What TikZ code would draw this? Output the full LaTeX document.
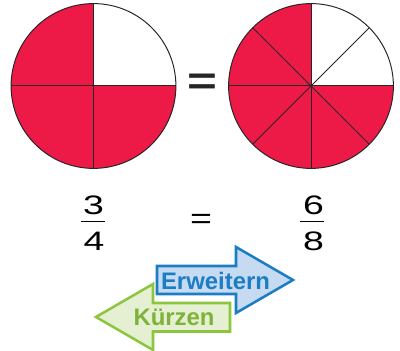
\documentclass[tikz,border=0pt]{standalone}
\usepackage{fontspec}
\setmainfont{Liberation Sans}
\usepackage{xcolor}
\usepackage{tikz}
\definecolor{fracred}{HTML}{ED1A47}
\definecolor{erwblue}{HTML}{1B7DC4}
\definecolor{erwfill}{HTML}{C6DBF1}
\definecolor{kuegreen}{HTML}{8CC63F}
\definecolor{kuefill}{HTML}{E5F0D3}
\newcommand{\stretchx}[2][1.4]{\scalebox{#1}[1]{#2}}

\begin{document}
\begin{tikzpicture}[x=0.25mm, y=0.25mm,
  rim/.style={draw=black!85, line width=0.7pt},
  digit/.style={inner sep=0pt, font=\fontsize{19}{21}\selectfont},
  arrowtext/.style={inner sep=0pt, font=\fontsize{17}{19}\selectfont\bfseries}]
  \useasboundingbox (0,0) rectangle (400,351);
  \def\rad{20.6mm}
  \coordinate (L) at (93.5,265);
  \coordinate (R) at (311,265);
  \fill[fracred] (L) -- +(90:\rad) arc[start angle=90, end angle=360, radius=\rad] -- cycle;
  \fill[fracred] (R) -- +(90:\rad) arc[start angle=90, end angle=360, radius=\rad] -- cycle;
  \draw[rim] (L) circle[radius=\rad];
  \foreach \a in {0,90,180,270} \draw[rim] (L) -- +(\a:\rad);
  \draw[rim] (R) circle[radius=\rad];
  \foreach \a in {0,45,...,315} \draw[rim] (R) -- +(\a:\rad);
  \node[inner sep=0pt, text=black!85, font=\fontsize{28}{30}\selectfont\bfseries] (eqbig) at (202.5,267) {\stretchx[1.3]{=}};

  \node[digit] (num3) at (93.5,146) {\stretchx{3}};
  \node[digit] (den4) at (94,109.5) {\stretchx{4}};
  \draw[line width=1.1pt] (81,129.3) -- (105,129.3);
  \node[digit, font=\fontsize{20.5}{22}\selectfont] (eqsmall) at (201,130) {\stretchx[1.3]{=}};
  \node[digit] (num6) at (313.5,146) {\stretchx{6}};
  \node[digit] (den8) at (313.5,109.5) {\stretchx{8}};
  \draw[line width=1.1pt] (300,129.3) -- (324,129.3);

  \filldraw[draw=kuegreen, fill=kuefill, line width=1.8pt] (96,34) -- (153,67) -- (153,48) -- (230,48)
    -- (230,19.5) -- (153,19.5) -- (153,1) -- cycle;
  \filldraw[draw=erwblue, fill=erwfill, line width=1.8pt] (157,85) -- (236,85) -- (236,104) -- (293,71)
    -- (236,38) -- (236,57) -- (157,57) -- cycle;
  \node[arrowtext, text=erwblue] (erw) at (215.5,69.6) {Erweitern};
  \node[arrowtext, text=kuegreen!90!black] (kue) at (174,34) {Kürzen};
\end{tikzpicture}
\end{document}
